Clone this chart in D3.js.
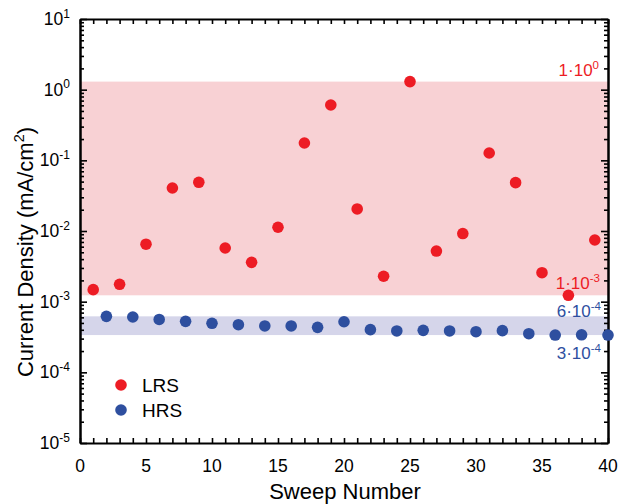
<!DOCTYPE html>
<html lang="en">
<head>
<meta charset="UTF-8">
<title>Current Density vs Sweep</title>
<script src="https://d3js.org/d3.v7.min.js"></script>
<style>
    body { margin: 0; background: #fff; }
    svg { font-family: "Liberation Sans", Arial, sans-serif; }
    .axis path, .axis line { stroke: #000; }
    .axis path { stroke-width: 2; }
    .axis line { stroke-width: 1.6; }
</style>
</head>
<body>
<svg id="chart" width="619" height="504"></svg>
<script>
// data
const lrsSweeps = [1, 3, 5, 7, 9, 11, 13, 15, 17, 19, 21, 23, 25, 27, 29, 31, 33, 35, 37, 39];
const lrsValues = [1.48e-3, 1.76e-3, 6.5e-3, 0.0406, 0.0489, 5.75e-3, 3.6e-3, 0.0113, 0.176, 0.607,
                   0.0205, 2.29e-3, 1.30, 5.2e-3, 9.2e-3, 0.127, 0.0483, 2.57e-3, 1.23e-3, 7.46e-3];
const hrsSweeps = [2, 4, 6, 8, 10, 12, 14, 16, 18, 20, 22, 24, 26, 28, 30, 32, 34, 36, 38, 40];
const hrsValues = [6.2e-4, 6.07e-4, 5.6e-4, 5.27e-4, 4.94e-4, 4.72e-4, 4.53e-4, 4.53e-4, 4.33e-4, 5.2e-4,
                   4.02e-4, 3.85e-4, 3.93e-4, 3.85e-4, 3.76e-4, 3.89e-4, 3.52e-4, 3.37e-4, 3.4e-4, 3.37e-4];
const xMajorTicks = [0, 5, 10, 15, 20, 25, 30, 35, 40];
const yDecades = [-5, -4, -3, -2, -1, 0, 1];
const lrsNotes = [["1", "0"], ["1", "-3"]];
const hrsNotes = [["6", "-4"], ["3", "-4"]];
const legendNames = ["LRS", "HRS"];

const RED = "#ed1c24", BLUE = "#2e4f9f";
const svg = d3.select("#chart");
const plotL = 80, plotR = 608, plotT = 19, plotB = 443;

const x = d3.scaleLinear().domain([0, 40]).range([plotL, plotR]);
const y = d3.scaleLog().domain([1e-5, 10]).range([plotB, plotT]);

const lrs = lrsSweeps.map((s, i) => ({ s: s, v: lrsValues[i] }));
const hrs = hrsSweeps.map((s, i) => ({ s: s, v: hrsValues[i] }));

// shaded ranges span min..max of each series
const bands = [
    { ext: d3.extent(lrsValues), fill: "#f8d1d4" },
    { ext: d3.extent(hrsValues), fill: "#d5d5ea" }
];
svg.selectAll("rect.band").data(bands).enter().append("rect")
    .attr("class", "band")
    .attr("x", plotL).attr("width", plotR - plotL)
    .attr("y", d => y(d.ext[1]))
    .attr("height", d => y(d.ext[0]) - y(d.ext[1]))
    .attr("fill", d => d.fill);

// minor log ticks
const yMinor = [];
yDecades.slice(0, -1).forEach(e => { for (let k = 2; k <= 9; k++) yMinor.push(k * Math.pow(10, e)); });
const yMajor = yDecades.map(e => Math.pow(10, e));
const xMinor = d3.range(0, 41);

function addAxis(axis, tx, ty) {
    const g = svg.append("g").attr("class", "axis").attr("transform", `translate(${tx},${ty})`).call(axis);
    g.selectAll("text").remove();
    return g;
}
addAxis(d3.axisLeft(y).tickValues(yMinor).tickSize(-4).tickSizeOuter(0), plotL, 0);
addAxis(d3.axisLeft(y).tickValues(yMajor).tickSize(-7).tickSizeOuter(0), plotL, 0);
addAxis(d3.axisRight(y).tickValues(yMinor).tickSize(-4).tickSizeOuter(0), plotR, 0);
addAxis(d3.axisRight(y).tickValues(yMajor).tickSize(-7).tickSizeOuter(0), plotR, 0);
addAxis(d3.axisBottom(x).tickValues(xMinor).tickSize(-5).tickSizeOuter(0), 0, plotB);
addAxis(d3.axisTop(x).tickValues(xMinor).tickSize(-5).tickSizeOuter(0), 0, plotT);

// y tick labels 10^n
const yl = svg.append("g").selectAll("text").data(yDecades).enter().append("text")
    .attr("x", 70).attr("y", d => y(Math.pow(10, d)) + 6)
    .attr("text-anchor", "end").attr("font-size", 17.5).attr("fill", "#000");
yl.append("tspan").text("10");
yl.append("tspan").attr("dy", -7.5).attr("font-size", 12).text(d => d);

// x tick labels
svg.append("g").selectAll("text").data(xMajorTicks).enter().append("text")
    .attr("x", d => x(d)).attr("y", plotB + 29)
    .attr("text-anchor", "middle").attr("font-size", 17.5).text(d => d);

// axis titles
svg.append("text").attr("x", (plotL + plotR) / 2 + 1).attr("y", 499)
    .attr("text-anchor", "middle").attr("font-size", 22).text("Sweep Number");
const yt = svg.append("text").attr("transform", `translate(33,252) rotate(-90)`)
    .attr("text-anchor", "middle").attr("font-size", 22);
yt.append("tspan").text("Current Density (mA/cm");
yt.append("tspan").attr("dy", -9).attr("font-size", 14.5).text("2");
yt.append("tspan").attr("dy", 9).text(")");

// points
svg.append("g").selectAll("circle").data(lrs).enter().append("circle")
    .attr("cx", d => x(d.s)).attr("cy", d => y(d.v)).attr("r", 5.8).attr("fill", RED);
svg.append("g").selectAll("circle").data(hrs).enter().append("circle")
    .attr("cx", d => x(d.s)).attr("cy", d => y(d.v)).attr("r", 5.8).attr("fill", BLUE);

// range annotations
function note(parts, px, py, color) {
    const t = svg.append("text").attr("x", px).attr("y", py).attr("text-anchor", "end")
        .attr("font-size", 17).attr("fill", color);
    t.append("tspan").text(parts[0] + "\u00b710");
    t.append("tspan").attr("dy", -7.5).attr("font-size", 11.5).text(parts[1]);
}
note(lrsNotes[0], 599, 76, RED);
note(lrsNotes[1], 600, 289, RED);
note(hrsNotes[0], 601, 317, BLUE);
note(hrsNotes[1], 601, 359, BLUE);

// legend
const lg = svg.append("g").selectAll("g").data(legendNames).enter().append("g")
    .attr("transform", (d, i) => `translate(121,${385 + i * 25})`);
lg.append("circle").attr("r", 5.8).attr("fill", (d, i) => i === 0 ? RED : BLUE);
lg.append("text").attr("x", 21).attr("y", 7).attr("font-size", 19).text(d => d);
</script>
</body>
</html>
